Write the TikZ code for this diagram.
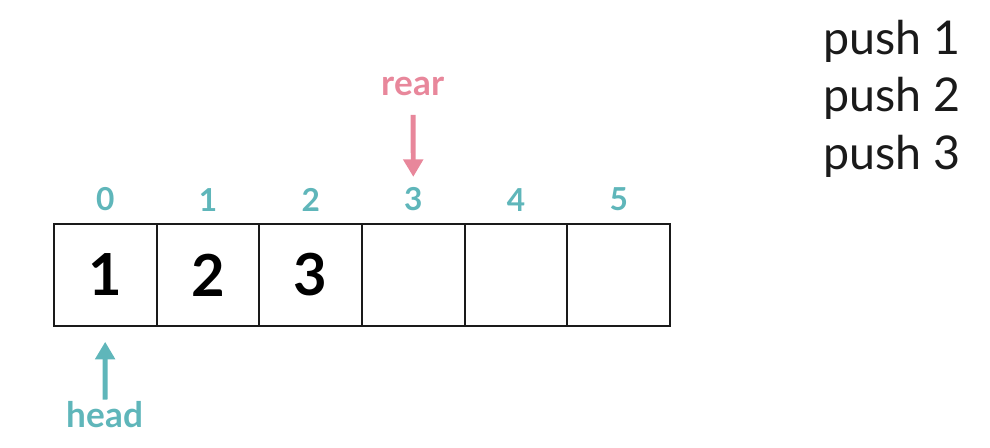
\documentclass[tikz,border=0pt]{standalone}
\usepackage{fontspec}
\setmainfont{Lato}
\usetikzlibrary{arrows.meta,positioning}
\definecolor{teal}{HTML}{5FB6BA}
\definecolor{rose}{HTML}{E8879B}
\definecolor{ink}{HTML}{1A1A1A}

\begin{document}
\begin{tikzpicture}[x=0.02cm, y=-0.02cm,
      cell/.style={draw=ink, line width=1.2pt, minimum width=2.0533cm, minimum height=2.04cm,
                   inner sep=0pt, outer sep=0pt, font=\fontsize{33}{33}\selectfont\bfseries, text=black},
      idx/.style={font=\fontsize{18}{18}\selectfont\bfseries, text=teal, inner sep=2pt},
      ptr/.style={font=\fontsize{20}{20}\selectfont\bfseries, inner sep=0pt},
      arr/.style={-{Triangle[length=10pt, width=11pt]}, line width=2.8pt}
    ]
      \useasboundingbox (0,0) rectangle (990,448);

      \foreach \i/\v in {0/1,1/2,2/3,3/,4/,5/} {
        \node[cell] (c\i) at ({54+102.67*(\i+0.5)},275) {\v};
        \node[idx, above=0.18cm of c\i] (i\i) {\i};
      }

      \node[ptr, text=rose] (rear) at (413,86) {rear};
      \draw[arr, rose, shorten <=11pt, shorten >=4pt] (rear) -- (i3);

      \node[ptr, text=teal] (head) at (105,415) {head};
      \draw[arr, teal, shorten <=1pt, shorten >=9pt] (head) -- (c0);

      \node[anchor=north west, align=left, text=ink, inner sep=0pt,
            font=\fontsize{26.5}{32.6}\selectfont] (ops) at (823,20) {push 1\\push 2\\push 3};
    \end{tikzpicture}
\end{document}
